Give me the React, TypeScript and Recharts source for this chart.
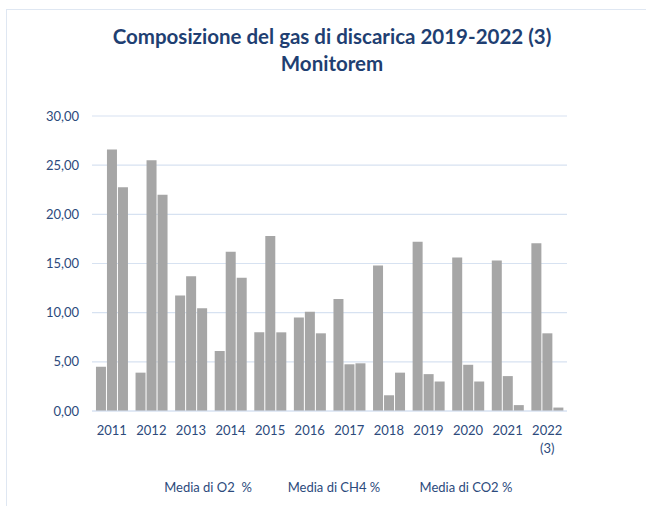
import React from "react";
import { BarChart, Bar, XAxis, YAxis, CartesianGrid } from "recharts";

const years = ["2011", "2012", "2013", "2014", "2015", "2016", "2017", "2018", "2019", "2020", "2021", "2022 (3)"];
const o2 = [4.5, 3.9, 11.75, 6.1, 8.0, 9.5, 11.4, 14.8, 17.2, 15.6, 15.3, 17.05];
const ch4 = [26.6, 25.5, 13.7, 16.2, 17.8, 10.1, 4.75, 1.6, 3.75, 4.7, 3.55, 7.9];
const co2 = [22.75, 22.0, 10.45, 13.55, 8.0, 7.9, 4.85, 3.9, 3.0, 3.0, 0.6, 0.35];
const yTicks = [0, 5, 10, 15, 20, 25, 30];
const seriesNames = ["Media di O2  %", "Media di CH4 %", "Media di CO2 %"];
const titleLines = ["Composizione del gas di discarica 2019-2022 (3)", "Monitorem"];

const data = years.map((y, i) => ({ year: y, o2: o2[i], ch4: ch4[i], co2: co2[i] }));

const FONT = "Lato, 'Open Sans', sans-serif";
const TEXT = "#2c4a7c";
const TITLE = "#1f3f72";
const GRID = "#d7e2f1";
const BAR = "#a6a6a6";

const fmt = (v: number) => v.toFixed(2).replace(".", ",");

const XTick = (props: any) => {
  const { x, y, payload } = props;
  const parts = String(payload.value).split(" ");
  return (
    <text x={x} y={y} textAnchor="middle" fill={TEXT} fontSize={13} fontFamily={FONT}>
      {parts.map((p: string, i: number) => (
        <tspan key={i} x={x} dy={i === 0 ? 16 : 18}>
          {p}
        </tspan>
      ))}
    </text>
  );
};

const legendCenters = [208, 334, 466];

export default function App() {
  return (
    <div style={{ position: "absolute", left: 0, top: 0, width: 646, height: 506, background: "#fff", overflow: "hidden", fontFamily: FONT }}>
      <div style={{ position: "absolute", left: 6, top: 9, width: 700, height: 600, borderLeft: "1.5px solid #dfe7f2", borderTop: "1.5px solid #dfe7f2" }} />
      <div style={{ position: "absolute", left: 0, top: 23, width: 664, textAlign: "center", color: TITLE, fontWeight: 700, fontSize: 20.5, lineHeight: "27px" }}>
        {titleLines.map((t, i) => (
          <div key={i}>{t}</div>
        ))}
      </div>
      <div style={{ position: "absolute", left: 0, top: 0 }}>
        <BarChart width={646} height={506} data={data} margin={{ top: 116, right: 79, bottom: 0, left: 0 }} barCategoryGap="10%" barGap={1}>
          <CartesianGrid horizontal vertical={false} stroke={GRID} strokeWidth={1.2} />
          <XAxis dataKey="year" interval={0} tickLine={false} axisLine={{ stroke: GRID, strokeWidth: 1.2 }} tick={<XTick />} height={95} />
          <YAxis
            width={92}
            domain={[0, 30]}
            ticks={yTicks}
            tickFormatter={fmt}
            axisLine={false}
            tickLine={false}
            tickSize={0}
            tickMargin={13}
            tick={{ fill: TEXT, fontSize: 13, fontFamily: FONT }}
          />
          <Bar dataKey="o2" name={seriesNames[0]} fill={BAR} isAnimationActive={false} />
          <Bar dataKey="ch4" name={seriesNames[1]} fill={BAR} isAnimationActive={false} />
          <Bar dataKey="co2" name={seriesNames[2]} fill={BAR} isAnimationActive={false} />
        </BarChart>
      </div>
      {seriesNames.map((n, i) => (
        <div
          key={n}
          style={{ position: "absolute", top: 479, left: legendCenters[i] - 70, width: 140, textAlign: "center", color: TEXT, fontSize: 13, whiteSpace: "pre" }}
        >
          {n}
        </div>
      ))}
    </div>
  );
}
